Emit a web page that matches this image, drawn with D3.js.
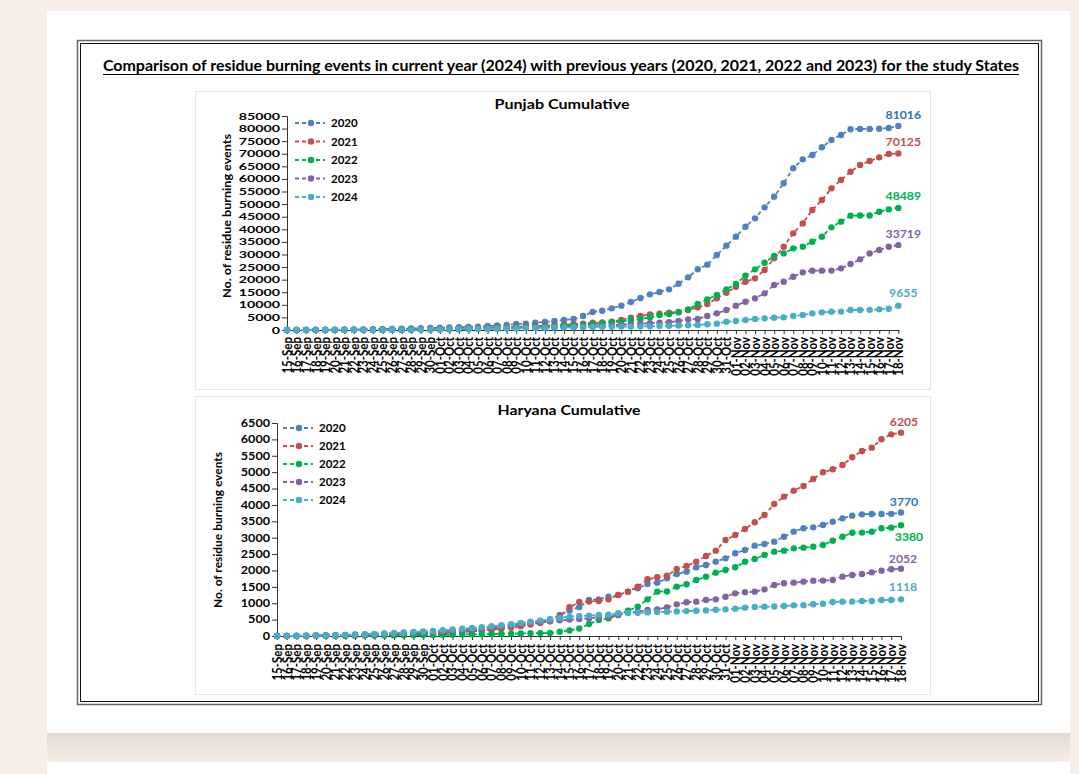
<!DOCTYPE html>
<html><head><meta charset="utf-8">
<script src="https://cdn.jsdelivr.net/npm/d3@7"></script>
<style>
html,body{margin:0;padding:0;background:#f8eee7;overflow:hidden;}
svg{display:block;}
text{font-family:Lato,"Open Sans",sans-serif;}
</style></head><body>
<svg id="c" width="1079" height="774"></svg>
<script>
// ---------- DATA ----------
const dates = ["15-Sep","16-Sep","17-Sep","18-Sep","19-Sep","20-Sep","21-Sep","22-Sep","23-Sep","24-Sep","25-Sep","26-Sep","27-Sep","28-Sep","29-Sep","30-Sep",
"01-Oct","02-Oct","03-Oct","04-Oct","05-Oct","06-Oct","07-Oct","08-Oct","09-Oct","10-Oct","11-Oct","12-Oct","13-Oct","14-Oct","15-Oct","16-Oct","17-Oct","18-Oct","19-Oct","20-Oct","21-Oct","22-Oct","23-Oct","24-Oct","25-Oct","26-Oct","27-Oct","28-Oct","29-Oct","30-Oct","31-Oct",
"01-Nov","02-Nov","03-Nov","04-Nov","05-Nov","06-Nov","07-Nov","08-Nov","09-Nov","10-Nov","11-Nov","12-Nov","13-Nov","14-Nov","15-Nov","16-Nov","17-Nov","18-Nov"];

const years = ["2020","2021","2022","2023","2024"];

const punjab2020 = [0,20,40,70,100,130,170,210,260,310,370,430,500,580,670,770,880,1000,1120,1250,1350,1600,1850,2000,2380,2520,2900,3180,3570,3970,4370,
5560,7150,7670,8600,9670,11120,12710,14160,15090,16150,18400,20920,24100,25950,29790,33500,37070,41040,44350,48720,52960,58260,64220,67790,69510,72560,75470,77460,79710,79840,79880,79920,80240,81016];
const punjab2021 = [0,5,10,15,20,30,40,50,70,90,110,140,170,210,250,300,360,430,510,600,700,820,950,1100,1250,1400,1550,1700,1900,2100,2300,
2500,2910,2950,3310,3970,4900,5560,6220,6490,6890,7150,7940,9000,10320,12570,14820,17200,19190,20510,23830,28460,33090,38380,42350,47660,51630,56260,59570,62880,65530,67120,68580,69900,70125];
const punjab2022 = [0,5,10,15,20,25,30,40,50,60,75,90,110,130,160,190,230,280,340,410,490,580,680,790,910,1040,1180,1330,1490,1660,1830,
1990,2380,2650,3180,3310,3970,4370,5030,5960,6350,7020,8210,10320,12180,13900,16150,18260,21570,24090,26740,29390,30450,32440,33090,35080,37070,40780,43030,45410,45450,45500,46990,47920,48489];
const punjab2023 = [0,5,10,15,20,30,40,50,60,75,90,110,130,160,190,220,260,300,350,400,460,520,590,660,740,820,900,980,1060,1140,1220,
1300,1500,1700,1900,2100,2300,2500,2700,2900,3100,3570,4240,4370,5560,6620,7940,9660,11250,12570,14560,17870,19190,21180,22900,23560,23580,23600,24490,26210,28060,30450,31770,33090,33719];
const punjab2024 = [0,5,10,15,20,25,35,45,55,70,85,100,120,140,170,200,240,280,330,380,440,500,560,620,690,760,830,900,960,1020,1080,
1150,1200,1250,1300,1350,1400,1450,1500,1600,1700,1800,1900,2000,2300,2500,3310,3570,3970,4370,4630,4900,5030,5560,5960,6620,7020,7280,7300,7940,7950,8000,8210,8470,9655];

const haryana2020 = [0,2,5,8,12,16,20,25,30,36,42,50,58,66,75,85,95,110,125,140,160,185,210,240,275,320,370,430,500,640,780,
880,1099,1119,1200,1251,1353,1455,1587,1628,1760,1892,1963,2096,2167,2269,2370,2523,2625,2757,2808,2879,3031,3184,3286,3316,3388,3489,3591,3672,3713,3723,3725,3728,3770];
const haryana2021 = [0,1,2,4,6,8,10,13,16,20,25,30,36,43,50,60,70,85,100,120,140,165,190,220,255,300,350,400,450,600,876,
1040,1050,1068,1119,1251,1353,1506,1730,1791,1842,2045,2136,2269,2442,2604,2930,3082,3265,3469,3693,4029,4252,4435,4578,4792,4995,5087,5219,5453,5646,5748,6002,6154,6205];
const haryana2022 = [0,1,2,3,4,5,6,8,10,12,14,16,19,22,25,28,32,36,40,45,50,55,60,66,72,78,84,88,90,130,170,
230,366,488,539,641,773,895,1119,1353,1360,1506,1577,1709,1811,1933,2014,2096,2269,2350,2472,2574,2604,2675,2696,2726,2777,2909,3031,3153,3155,3184,3286,3306,3380];
const haryana2023 = [0,2,5,10,15,20,26,33,40,48,57,67,78,90,103,117,132,148,165,180,200,230,260,290,330,380,430,450,460,480,500,
520,540,570,580,641,712,743,794,814,875,966,1028,1048,1099,1119,1200,1302,1333,1353,1424,1557,1608,1628,1658,1689,1690,1709,1811,1862,1892,1943,1994,2035,2052];
const haryana2024 = [0,3,6,10,15,20,27,35,44,54,65,77,90,105,120,137,155,175,197,220,245,272,300,330,360,395,430,470,510,550,590,
610,620,641,650,692,700,710,720,730,740,750,760,770,780,800,814,834,865,885,895,900,916,936,940,967,987,1038,1048,1050,1068,1070,1099,1100,1118];

const punjabTicks = [0,5000,10000,15000,20000,25000,30000,35000,40000,45000,50000,55000,60000,65000,70000,75000,80000,85000];
const haryanaTicks = [0,500,1000,1500,2000,2500,3000,3500,4000,4500,5000,5500,6000,6500];

const lineColors = ["#4f81bd","#c0504d","#00b050","#8064a2","#4bacc6"];
const labelColors = ["#2e75b6","#c0504d","#00b050","#8064a2","#4bacc6"];

// ---------- DRAW ----------
const svg = d3.select("#c");
const defs = svg.append("defs");
const gr = defs.append("linearGradient").attr("id","sh").attr("x1",0).attr("y1",0).attr("x2",0).attr("y2",1);
gr.append("stop").attr("offset","0%").attr("stop-color","#e4d9d0");
gr.append("stop").attr("offset","100%").attr("stop-color","#f8eee7");

svg.append("rect").attr("x",47).attr("y",11).attr("width",1023).attr("height",722).attr("fill","#fff");
svg.append("rect").attr("x",47).attr("y",733).attr("width",1023).attr("height",29).attr("fill","url(#sh)");
svg.append("rect").attr("x",47).attr("y",762).attr("width",1023).attr("height",12).attr("fill","#fff");

// frame
svg.append("rect").attr("x",77.5).attr("y",40.5).attr("width",964).attr("height",664)
  .attr("fill","none").attr("stroke","#666").attr("stroke-width",1.5);
svg.append("rect").attr("x",80.5).attr("y",43.5).attr("width",958).attr("height",658)
  .attr("fill","none").attr("stroke","#111").attr("stroke-width",1);

// main title
svg.append("text").attr("x",561).attr("y",71).attr("text-anchor","middle")
  .attr("font-size",15).attr("font-weight","bold").attr("fill","#000")
  .attr("textLength",916).attr("lengthAdjust","spacingAndGlyphs")
  .text("Comparison of residue burning events in current year (2024) with previous years (2020, 2021, 2022 and 2023) for the study States");
svg.append("line").attr("x1",103).attr("x2",1019).attr("y1",74.5).attr("y2",74.5).attr("stroke","#000").attr("stroke-width",1.2);

function drawChart(o){
  const g = svg.append("g");
  g.append("rect").attr("x",o.box[0]+0.5).attr("y",o.box[1]+0.5).attr("width",o.box[2]).attr("height",o.box[3])
    .attr("fill","none").attr("stroke","#e6e6e6");

  const x = d3.scalePoint().domain(dates).range([o.x0,o.x1]);
  const y = d3.scaleLinear().domain([0,o.ticks[o.ticks.length-1]]).range([o.y0,o.y1]);

  // title
  g.append("text").attr("x",o.titleX).attr("y",o.titleY).attr("text-anchor","middle")
    .attr("font-size",14).attr("font-weight","bold").attr("textLength",o.titleLen).attr("lengthAdjust","spacingAndGlyphs")
    .text(o.title);

  // y axis
  const yg = g.append("g").attr("transform",`translate(${o.x0},0)`)
    .call(d3.axisLeft(y).tickValues(o.ticks).tickSize(5).tickFormat(d3.format("d")));
  yg.select(".domain").attr("stroke","#333");
  yg.selectAll(".tick line").attr("stroke","#333");
  yg.selectAll(".tick text").attr("x",null).attr("fill","#000")
    .attr("font-size",o.yFont).attr("font-weight","bold").attr("font-family","Lato, sans-serif")
    .attr("transform",`translate(-7,0) scale(${o.ySx},1)`);

  // y axis title
  g.append("text").attr("transform",`translate(${o.yTitleX},${o.yTitleY}) rotate(-90)`)
    .attr("text-anchor","middle").attr("font-size",11).attr("font-weight","bold")
    .attr("textLength",o.yTitleLen).attr("lengthAdjust","spacingAndGlyphs")
    .text("No. of residue burning events");

  // x axis
  const xg = g.append("g").attr("transform",`translate(0,${o.y0})`)
    .call(d3.axisBottom(x).tickSize(4).tickSizeOuter(0));
  xg.select(".domain").attr("stroke","#333").attr("d",`M${o.x0},0.5H${o.x1+1}`);
  xg.selectAll(".tick line").attr("stroke","#333");
  xg.selectAll(".tick text").attr("x",null).attr("y",null).attr("dy","0.35em")
    .attr("text-anchor","end").attr("fill","#000")
    .attr("font-size",11.5).attr("font-weight","bold").attr("font-family","Lato, sans-serif")
    .attr("transform",`translate(0,${o.xLabOff}) rotate(-90) scale(1,1.1)`);

  // series
  const line = d3.line().x((d,i)=>x(dates[i])).y(d=>y(d));
  o.series.forEach((s,k)=>{
    g.append("path").datum(s).attr("d",line).attr("fill","none")
      .attr("stroke",lineColors[k]).attr("stroke-width",1.8).attr("stroke-dasharray","4,3");
    g.append("g").selectAll("circle").data(s).join("circle")
      .attr("cx",(d,i)=>x(dates[i])).attr("cy",d=>y(d)).attr("r",3.2).attr("fill",lineColors[k]);
  });
  // end labels
  o.series.forEach((s,k)=>{
    const v = s[s.length-1];
    g.append("text").attr("x",x(dates[dates.length-1])+o.lab[k][0]).attr("y",y(v)+o.lab[k][1])
      .attr("text-anchor","middle").attr("font-size",11.5).attr("font-weight","bold")
      .attr("fill",labelColors[k]).attr("textLength",String(v).length*7.1).attr("lengthAdjust","spacingAndGlyphs")
      .text(v);
  });

  // legend
  years.forEach((yr,k)=>{
    const ly = o.legY + k*o.legStep;
    g.append("line").attr("x1",o.legX).attr("x2",o.legX+30).attr("y1",ly).attr("y2",ly)
      .attr("stroke",lineColors[k]).attr("stroke-width",1.8).attr("stroke-dasharray","4,3");
    g.append("circle").attr("cx",o.legX+16).attr("cy",ly).attr("r",3.2).attr("fill",lineColors[k]);
    g.append("text").attr("x",o.legX+36).attr("y",ly).attr("dy","0.36em")
      .attr("font-size",11.5).attr("font-weight","bold").text(yr);
  });
}

drawChart({
  title:"Punjab Cumulative", titleX:562, titleY:109, titleLen:135,
  box:[195,91,735,298],
  x0:287, x1:898.3, y0:330, y1:116, ticks:punjabTicks,
  yFont:9.5, ySx:1.5, yTitleX:231, yTitleY:216, yTitleLen:164,
  xLabOff:7,
  series:[punjab2020,punjab2021,punjab2022,punjab2023,punjab2024],
  lab:[[5,-7.5],[5,-7],[5,-7.5],[5,-7],[5,-8.5]],
  legX:295, legY:123, legStep:18.5
});

drawChart({
  title:"Haryana Cumulative", titleX:569, titleY:415, titleLen:143,
  box:[195,396,735,298],
  x0:277, x1:901, y0:636, y1:423, ticks:haryanaTicks,
  yFont:10.5, ySx:1.2, yTitleX:222, yTitleY:530, yTitleLen:156,
  xLabOff:8,
  series:[haryana2020,haryana2021,haryana2022,haryana2023,haryana2024],
  lab:[[3,-6],[3,-7],[8,16],[2,-6],[2,-8]],
  legX:283, legY:428, legStep:18
});
</script>
</body></html>
